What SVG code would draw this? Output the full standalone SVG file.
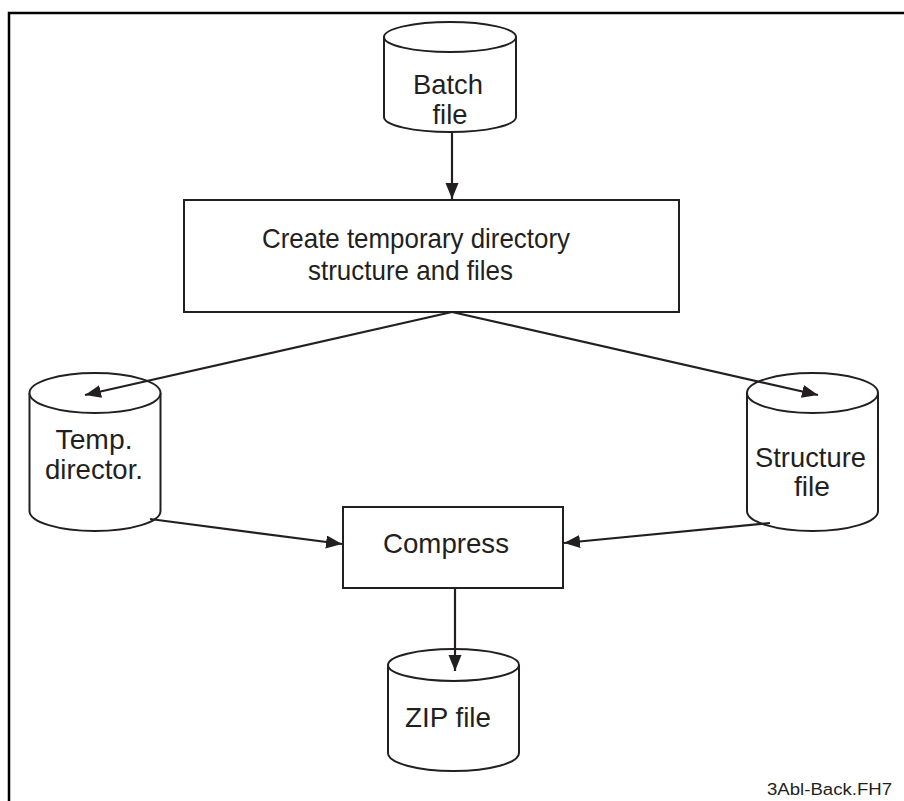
<svg xmlns="http://www.w3.org/2000/svg" width="904" height="801" viewBox="0 0 904 801">
<defs>
<style>
.s{fill:none;stroke:#231f20;stroke-width:2}
.b{fill:#fff;stroke:#231f20;stroke-width:2}
.t{font-family:"Liberation Sans",Arial,sans-serif;font-size:28px;fill:#231f20;text-anchor:middle}
.c{stroke:#231f20;stroke-width:2.2;fill:none;marker-end:url(#ah)}
</style>
<marker id="ah" markerUnits="userSpaceOnUse" markerWidth="16" markerHeight="14" refX="16" refY="6.5" orient="auto">
<path d="M0,0 L16,6.5 L0,13 z" fill="#231f20"/>
</marker>
</defs>
<rect width="904" height="801" fill="#fff"/>
<path d="M9,801 V13 H904" fill="none" stroke="#000" stroke-width="2.5"/>

<g id="batch">
<path class="b" d="M384,37 V117 A66,15 0 0 0 516,117 V37"/>
<ellipse class="b" cx="450" cy="37" rx="66" ry="15"/>
<text class="t" x="448" y="94" font-size="27" textLength="70" lengthAdjust="spacingAndGlyphs">Batch</text>
<text class="t" x="450" y="124" font-size="27" textLength="35" lengthAdjust="spacingAndGlyphs">file</text>
</g>

<g id="create">
<rect class="b" x="184" y="200" width="495" height="112"/>
<text class="t" x="416" y="248" textLength="308" lengthAdjust="spacingAndGlyphs">Create temporary directory</text>
<text class="t" x="410.5" y="280" textLength="205" lengthAdjust="spacingAndGlyphs">structure and files</text>
</g>

<g id="temp">
<path class="b" d="M29.5,393 V511 A65.5,20 0 0 0 160.5,511 V393"/>
<ellipse class="b" cx="95" cy="393" rx="65.5" ry="20"/>
<text class="t" x="94" y="449" textLength="77" lengthAdjust="spacingAndGlyphs">Temp.</text>
<text class="t" x="94" y="479" textLength="98" lengthAdjust="spacingAndGlyphs">director.</text>
</g>

<g id="structure">
<path class="b" d="M747,393 V511 A65.5,20 0 0 0 878,511 V393"/>
<ellipse class="b" cx="812.5" cy="393" rx="65.5" ry="20"/>
<text class="t" x="810.5" y="467" textLength="111" lengthAdjust="spacingAndGlyphs">Structure</text>
<text class="t" x="812" y="496" textLength="36" lengthAdjust="spacingAndGlyphs">file</text>
</g>

<g id="compress">
<rect class="b" x="343" y="507" width="220" height="81"/>
<text class="t" x="446" y="553" textLength="126" lengthAdjust="spacingAndGlyphs">Compress</text>
</g>

<g id="zip">
<path class="b" d="M388,665 V753 A65.5,18 0 0 0 519,753 V665"/>
<ellipse class="b" cx="453.5" cy="665" rx="65.5" ry="16"/>
<text class="t" x="448" y="727" textLength="86" lengthAdjust="spacingAndGlyphs">ZIP file</text>
</g>

<g id="connectors">
<line class="c" x1="452" y1="132" x2="452" y2="199"/>
<line class="c" x1="452" y1="312" x2="85" y2="395"/>
<line class="c" x1="452" y1="312" x2="818" y2="395"/>
<line class="c" x1="150" y1="519" x2="342" y2="544"/>
<line class="c" x1="770" y1="523" x2="564" y2="543"/>
<line class="c" x1="455" y1="588" x2="455" y2="671"/>
</g>

<text x="892" y="795" font-family="'Liberation Sans',Arial,sans-serif" font-size="16" fill="#231f20" text-anchor="end" textLength="125" lengthAdjust="spacingAndGlyphs">3Abl-Back.FH7</text>
</svg>
